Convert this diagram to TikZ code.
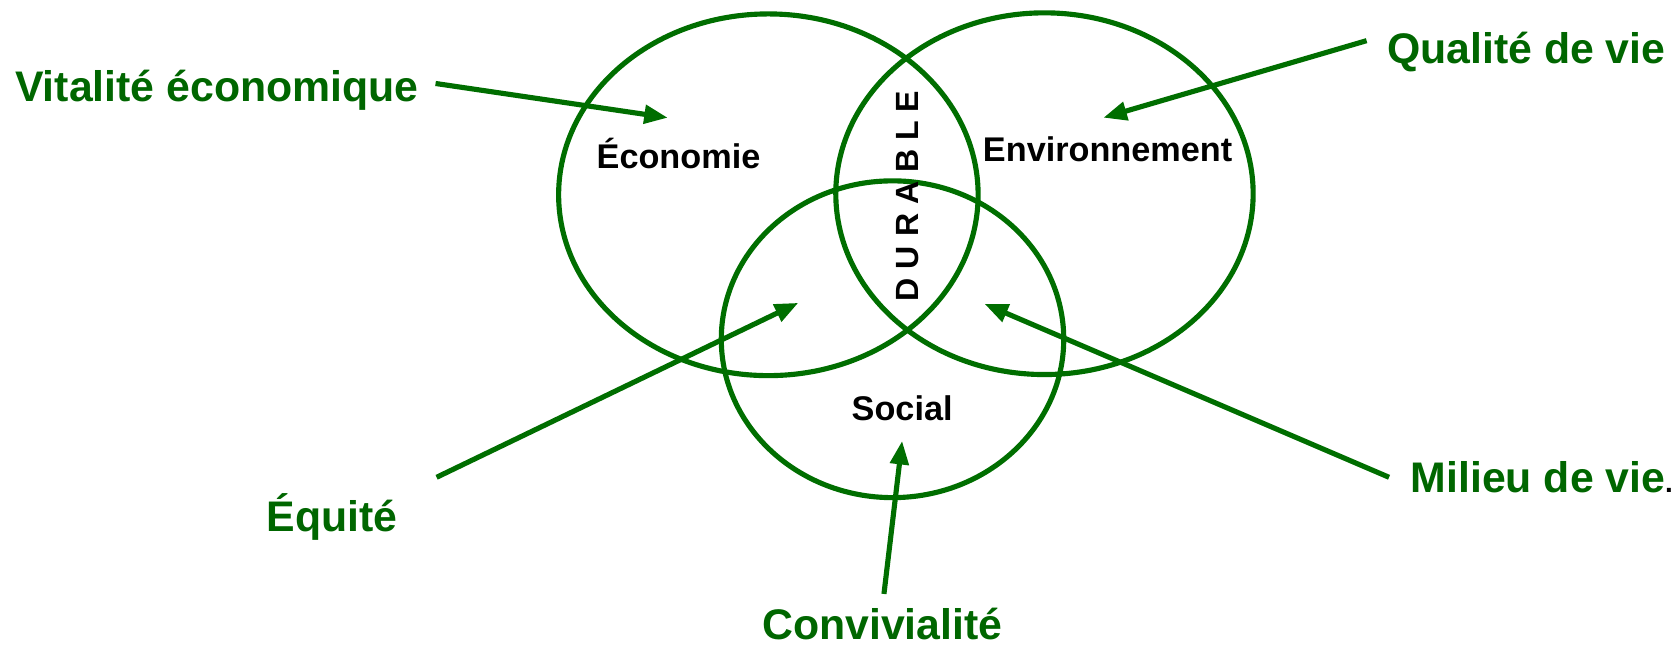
\documentclass[tikz,border=0pt]{standalone}
\usepackage{fontspec}
\setmainfont{Liberation Sans}
\usetikzlibrary{shapes.geometric,arrows.meta}
\definecolor{dg}{RGB}{0,110,0}
\definecolor{tg}{RGB}{0,102,0}
\begin{document}
\begin{tikzpicture}[x=1pt,y=-1pt,
  ring/.style={ellipse,draw=dg,line width=4.8pt,inner sep=0pt},
  inlab/.style={font=\fontsize{32}{32}\selectfont\bfseries,text=black,inner sep=0pt,anchor=base},
  outlab/.style={font=\fontsize{40}{40}\selectfont\bfseries,text=tg,inner sep=0pt,anchor=base west},
  arr/.style={draw=dg,line width=4.8pt,-{Triangle[length=22pt,width=17pt]}}]
\useasboundingbox (0,0) rectangle (1568,604.6);
\node[ring,minimum width=392pt,minimum height=338pt] (eco) at (718,182) {};
\node[ring,minimum width=390pt,minimum height=338pt] (env) at (976,181) {};
\node[ring,minimum width=320pt,minimum height=296pt] (soc) at (834,317) {};
\node[inlab] (teco) at (634,157) {Économie};
\node[inlab] (tenv) at (1035,151) {Environnement};
\node[inlab] (tsoc) at (843,393) {Social};
\node[font=\fontsize{30}{30}\selectfont\bfseries,inner sep=0pt,rotate=90] (dur) at (848,183) {D U R A B L E};
\node[outlab] (vit) at (14,95) {Vitalité économique};
\node[outlab] (qual) at (1296,59) {Qualité de vie};
\node[outlab] (mil) at (1318,460) {Milieu de vie\textcolor{black}{\fontsize{26}{26}\selectfont .}};
\node[outlab] (equ) at (249,497) {Équité};
\node[outlab] (conv) at (712,598) {Convivialité};
\coordinate (vitA) at (407,78);
\coordinate (vitB) at (624,110);
\coordinate (qualA) at (1277,38);
\coordinate (qualB) at (1031,110);
\coordinate (equA) at (408,446);
\coordinate (equB) at (746,283);
\coordinate (milA) at (1298,446);
\coordinate (milB) at (920,284);
\coordinate (convA) at (826,555);
\coordinate (convB) at (843,412);
\draw[arr] (vitA) -- (vitB);
\draw[arr] (qualA) -- (qualB);
\draw[arr] (equA) -- (equB);
\draw[arr] (milA) -- (milB);
\draw[arr] (convA) -- (convB);
\end{tikzpicture}
\end{document}
